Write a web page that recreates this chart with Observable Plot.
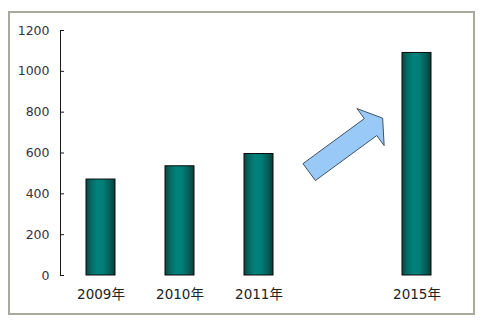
<!DOCTYPE html>
<html>
<head>
<meta charset="utf-8">
<script src="https://cdn.jsdelivr.net/npm/d3@7"></script>
<script src="https://cdn.jsdelivr.net/npm/@observablehq/plot@0.6"></script>
<style>
  html, body { margin: 0; padding: 0; background: #fff; }
  #wrap { position: relative; width: 486px; height: 328px; overflow: hidden; }
  #box {
    position: absolute; left: 8px; top: 11px; width: 463px; height: 300px;
    border: 2px solid #a9a99e; pointer-events: none;
  }
  #chart { position: absolute; left: 0; top: 0; }
</style>
</head>
<body>
<div id="wrap">
  <div id="chart"></div>
  <div id="box"></div>
</div>
<script>
// Categories along the x axis; the blank slot keeps the gap before 2015
const categories = ["2009年", "2010年", "2011年", "", "2015年"];
const years = ["2009年", "2010年", "2011年", "2015年"];
const values = [470, 535, 595, 1090];
const yTicks = [0, 200, 400, 600, 800, 1000, 1200];

// Trend arrow in the blank slot: offset from the slot centre (in steps) and value
const arrowFrom = {offset: -0.36, value: 504};
const arrowTo = {offset: 0.57, value: 768};

const data = years.map((year, i) => ({year, value: values[i]}));

const PAD_INNER = 0.63;

// Gradient definition used by the bars
function gradientDefs() {
  const g = d3.create("svg:g");
  const grad = g.append("defs").append("linearGradient")
    .attr("id", "barGrad").attr("x1", "0").attr("x2", "1").attr("y1", "0").attr("y2", "0");
  [[0, "#0c4541"], [0.18, "#066a64"], [0.4, "#00837c"], [0.6, "#007d76"], [0.82, "#065e59"], [1, "#0b3a37"]]
    .forEach(([o, c]) => grad.append("stop").attr("offset", o).attr("stop-color", c));
  return g.node();
}

// Block arrow drawn through the x and y scales
function trendArrow(index, scales) {
  const x = scales.x, y = scales.y;
  const step = x(categories[1]) - x(categories[0]);
  const bw = step * (1 - PAD_INNER);
  const cx = x("") + bw / 2;
  const T = [cx + arrowFrom.offset * step, y(arrowFrom.value)];
  const P = [cx + arrowTo.offset * step, y(arrowTo.value)];
  const L = Math.hypot(P[0] - T[0], P[1] - T[1]);
  const d = [(P[0] - T[0]) / L, (P[1] - T[1]) / L];
  const n = [-d[1], d[0]];
  const head = 15, headHalf = 23, shaftHalf = 10.5;
  const B = [P[0] - head * d[0], P[1] - head * d[1]];
  const pt = (o, k) => [o[0] + n[0] * k, o[1] + n[1] * k];
  const pts = [pt(T, shaftHalf), pt(B, shaftHalf), pt(B, headHalf), P, pt(B, -headHalf), pt(B, -shaftHalf), pt(T, -shaftHalf)];
  const g = d3.create("svg:g");
  g.append("path")
    .attr("d", "M" + pts.map(p => p.join(",")).join("L") + "Z")
    .attr("fill", "#99c9f7")
    .attr("stroke", "#3f5266")
    .attr("stroke-width", 1)
    .attr("stroke-linejoin", "miter");
  return g.node();
}

const chart = Plot.plot({
  width: 486,
  height: 328,
  marginLeft: 60,
  marginRight: 28,
  marginTop: 30,
  marginBottom: 53,
  style: {fontFamily: "DejaVu Sans, 'Noto Sans CJK SC', sans-serif", fontSize: "12px", color: "#333", background: "transparent", overflow: "visible"},
  x: {type: "band", domain: categories, paddingInner: PAD_INNER, paddingOuter: PAD_INNER / 2, label: null},
  y: {domain: [0, 1200], ticks: yTicks, label: null},
  marks: [
    gradientDefs,
    Plot.barY(data, {x: "year", y: "value", fill: "url(#barGrad)", stroke: "#0a0a0a", strokeWidth: 1}),
    Plot.frame({anchor: "left", stroke: "#1a1a1a", strokeWidth: 1}),
    Plot.axisY(yTicks, {tickSize: -4, tickPadding: 15, tickFormat: d => String(d), stroke: "#1a1a1a", fill: "#33333f", fontSize: 12.5}),
    Plot.axisX(years, {tickSize: 0, tickPadding: 14, fill: "#222", fontSize: 13.5}),
    trendArrow
  ]
});

document.getElementById("chart").appendChild(chart);
</script>
</body>
</html>
